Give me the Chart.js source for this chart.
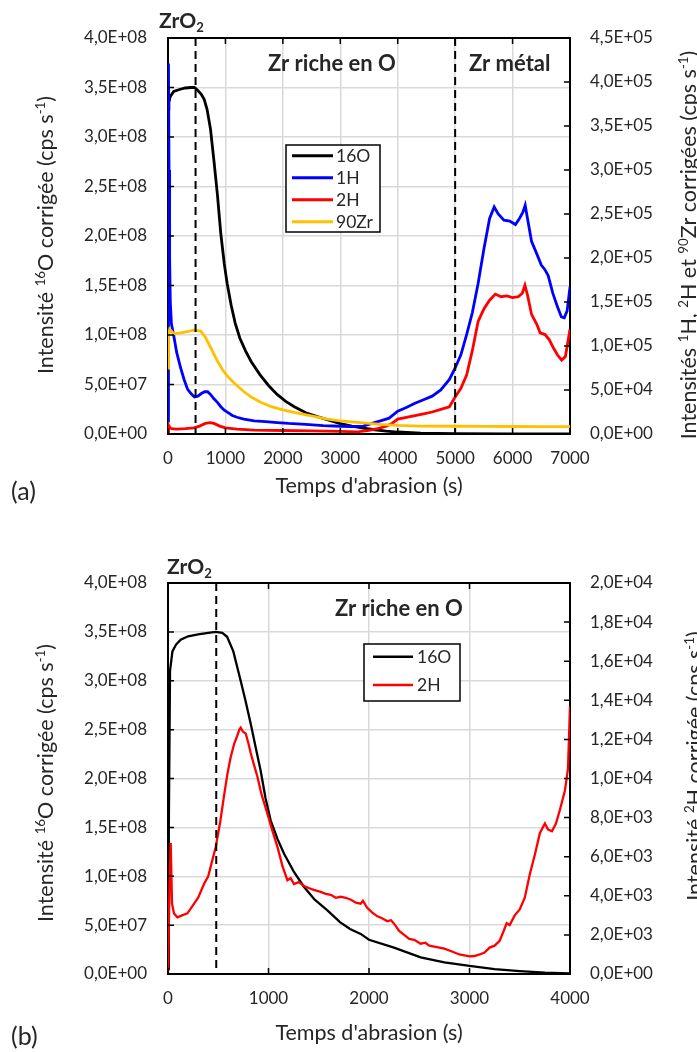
<!DOCTYPE html>
<html>
<head>
<meta charset="utf-8">
<script src="https://cdn.jsdelivr.net/npm/chart.js@4.4.0/dist/chart.umd.min.js"></script>
<style>
  body { margin: 0; background: #fff; }
  canvas { display: block; }
</style>
</head>
<body>
<canvas id="chartA" width="697" height="526"></canvas>
<canvas id="chartB" width="697" height="526"></canvas>
<script>
// ---- (a) data ----
const tO16a = [0, 15, 40, 100, 200, 300, 400, 460, 520, 580, 630, 680, 740, 800, 860, 920, 980, 1030, 1100, 1170, 1250, 1350, 1450, 1600, 1750, 1900, 2050, 2200, 2400, 2600, 2800, 3000, 3200, 3400, 3600, 3800, 4000, 4400, 5000, 6000, 7000];
const o16a = [3.28e8, 3.35e8, 3.41e8, 3.46e8, 3.48e8, 3.495e8, 3.5e8, 3.5e8, 3.47e8, 3.43e8, 3.38e8, 3.28e8, 3.08e8, 2.76e8, 2.42e8, 2.02e8, 1.72e8, 1.52e8, 1.30e8, 1.12e8, 0.97e8, 0.84e8, 0.73e8, 0.60e8, 0.49e8, 0.40e8, 0.33e8, 0.275e8, 0.215e8, 0.175e8, 0.14e8, 0.105e8, 0.08e8, 0.06e8, 0.043e8, 0.03e8, 0.02e8, 0.008e8, 0.004e8, 0.002e8, 0.002e8];

const tH1a = [0, 8, 18, 28, 40, 60, 100, 150, 220, 280, 340, 400, 460, 520, 580, 640, 690, 740, 800, 860, 920, 980, 1040, 1120, 1200, 1320, 1500, 1700, 1900, 2100, 2400, 2700, 3000, 3200, 3400, 3550, 3700, 3850, 4000, 4150, 4300, 4450, 4600, 4750, 4900, 5000, 5100, 5200, 5300, 5400, 5500, 5600, 5680, 5750, 5850, 5950, 6050, 6120, 6180, 6220, 6260, 6330, 6420, 6500, 6560, 6620, 6700, 6780, 6850, 6900, 6950, 7000];
const h1a = [1.5e4, 4.21e5, 3.0e5, 2.0e5, 1.5e5, 1.25e5, 1.12e5, 9.3e4, 7.5e4, 6.2e4, 5.1e4, 4.6e4, 4.2e4, 4.3e4, 4.6e4, 4.8e4, 4.8e4, 4.5e4, 4.0e4, 3.6e4, 3.1e4, 2.7e4, 2.45e4, 2.1e4, 1.9e4, 1.7e4, 1.5e4, 1.4e4, 1.3e4, 1.2e4, 1.1e4, 9.5e3, 8.8e3, 8.5e3, 9e3, 1.2e4, 1.5e4, 1.8e4, 2.6e4, 3.0e4, 3.5e4, 3.9e4, 4.3e4, 5.0e4, 6.2e4, 7.5e4, 9.0e4, 1.13e5, 1.38e5, 1.71e5, 2.1e5, 2.45e5, 2.58e5, 2.5e5, 2.43e5, 2.42e5, 2.38e5, 2.45e5, 2.52e5, 2.6e5, 2.45e5, 2.19e5, 2.05e5, 1.92e5, 1.87e5, 1.8e5, 1.6e5, 1.45e5, 1.33e5, 1.32e5, 1.4e5, 1.67e5];

const tH2a = [0, 10, 25, 60, 150, 300, 450, 550, 650, 730, 800, 900, 1000, 1200, 1500, 2000, 2500, 3000, 3300, 3500, 3650, 3800, 3900, 4000, 4150, 4300, 4450, 4600, 4750, 4900, 5000, 5100, 5200, 5300, 5400, 5500, 5600, 5700, 5800, 5900, 6000, 6100, 6170, 6215, 6260, 6330, 6420, 6480, 6565, 6640, 6710, 6780, 6855, 6920, 7000];
const h2a = [0, 1.0e4, 8e3, 6e3, 5.5e3, 6e3, 7e3, 9e3, 1.2e4, 1.3e4, 1.2e4, 9e3, 7e3, 5.5e3, 4.5e3, 4e3, 3.5e3, 3e3, 2.5e3, 4e3, 6e3, 9e3, 1.2e4, 1.7e4, 1.9e4, 2.1e4, 2.3e4, 2.5e4, 2.8e4, 3.1e4, 4.2e4, 5.2e4, 6.7e4, 9.5e4, 1.28e5, 1.42e5, 1.52e5, 1.59e5, 1.56e5, 1.57e5, 1.55e5, 1.56e5, 1.6e5, 1.69e5, 1.58e5, 1.36e5, 1.25e5, 1.15e5, 1.13e5, 1.07e5, 9.8e4, 9.0e4, 8.4e4, 8.8e4, 1.19e5];

const tZr90a = [0, 10, 30, 100, 220, 350, 453, 570, 650, 744, 850, 950, 1030, 1150, 1324, 1450, 1614, 1800, 2000, 2194, 2500, 2775, 3000, 3355, 3700, 4000, 4400, 5000, 5500, 6000, 6500, 7000];
const zr90a = [7.5e4, 1.13e5, 1.19e5, 1.14e5, 1.15e5, 1.165e5, 1.18e5, 1.17e5, 1.1e5, 9.8e4, 8.4e4, 7.3e4, 6.6e4, 5.8e4, 4.8e4, 4.2e4, 3.6e4, 3.1e4, 2.75e4, 2.46e4, 2.05e4, 1.7e4, 1.5e4, 1.3e4, 1.1e4, 9.8e3, 9e3, 8.8e3, 8.6e3, 8.5e3, 8.4e3, 8.4e3];

// ---- (b) data ----
const tO16b = [0, 8, 20, 44, 80, 126, 200, 300, 400, 475, 540, 588, 650, 723, 770, 823, 870, 922, 970, 1022, 1090, 1155, 1250, 1354, 1460, 1586, 1711, 1811, 1917, 2000, 2249, 2514, 2750, 3000, 3250, 3500, 3750, 4000];
const o16b = [0.05e8, 1.5e8, 3.1e8, 3.30e8, 3.37e8, 3.42e8, 3.455e8, 3.475e8, 3.49e8, 3.5e8, 3.49e8, 3.45e8, 3.3e8, 3.0e8, 2.8e8, 2.56e8, 2.33e8, 2.08e8, 1.8e8, 1.57e8, 1.38e8, 1.23e8, 1.05e8, 0.89e8, 0.76e8, 0.65e8, 0.53e8, 0.46e8, 0.41e8, 0.35e8, 0.27e8, 0.17e8, 0.12e8, 0.082e8, 0.05e8, 0.03e8, 0.015e8, 0.007e8];

const tH2b = [0, 15, 27, 40, 60, 93, 140, 193, 260, 300, 358, 400, 475, 520, 557, 590, 624, 660, 690, 710, 723, 745, 773, 800, 823, 850, 889, 930, 989, 1040, 1089, 1140, 1188, 1220, 1254, 1300, 1354, 1400, 1450, 1519, 1570, 1620, 1670, 1718, 1770, 1820, 1870, 1917, 1940, 1980, 2030, 2083, 2130, 2183, 2220, 2260, 2300, 2350, 2400, 2450, 2514, 2560, 2600, 2650, 2700, 2750, 2800, 2850, 2900, 2950, 3000, 3050, 3100, 3150, 3200, 3250, 3300, 3340, 3370, 3400, 3450, 3500, 3550, 3600, 3650, 3700, 3750, 3780, 3820, 3860, 3900, 3950, 3980, 4000];
const h2b = [0, 4.5e3, 6.7e3, 3.6e3, 3.1e3, 2.9e3, 3.0e3, 3.1e3, 3.6e3, 3.9e3, 4.6e3, 5.0e3, 6.5e3, 7.8e3, 9.1e3, 1.02e4, 1.11e4, 1.18e4, 1.22e4, 1.25e4, 1.26e4, 1.24e4, 1.23e4, 1.18e4, 1.13e4, 1.08e4, 1.01e4, 9.2e3, 8.2e3, 7.3e3, 6.5e3, 5.5e3, 4.8e3, 4.9e3, 4.6e3, 4.7e3, 4.5e3, 4.4e3, 4.3e3, 4.2e3, 4.1e3, 4.05e3, 3.9e3, 3.95e3, 3.9e3, 3.8e3, 3.65e3, 3.6e3, 3.75e3, 3.4e3, 3.15e3, 2.95e3, 2.85e3, 2.7e3, 2.75e3, 2.5e3, 2.2e3, 2.0e3, 1.8e3, 1.75e3, 1.55e3, 1.6e3, 1.45e3, 1.4e3, 1.35e3, 1.3e3, 1.2e3, 1.1e3, 1.0e3, 0.95e3, 0.9e3, 0.92e3, 1.0e3, 1.1e3, 1.35e3, 1.45e3, 1.7e3, 2.2e3, 2.6e3, 2.5e3, 3.0e3, 3.3e3, 3.9e3, 5.1e3, 6.1e3, 7.2e3, 7.7e3, 7.4e3, 7.3e3, 7.7e3, 8.4e3, 9.4e3, 1.05e4, 1.37e4];

const FONT = 'Lato';
const TXT = '#262626';
const TICK_SIZE = 17;
const TITLE_SIZE = 21.5;

function pts(ts, vs) {
  return ts.map((t, i) => ({ x: t, y: vs[i] }));
}

// 4.0E+08 style labels
function sci(v) {
  const parts = Number(v).toExponential(1).split('e');
  const sign = parts[1][0] === '-' ? '-' : '+';
  const ex = String(Math.abs(parseInt(parts[1], 10))).padStart(2, '0');
  return parts[0].replace('.', ',') + 'E' + sign + ex;
}

// text with super/subscripts; segs = [[text, 0|1|-1]], centred on caps
function drawRich(ctx, segs, x, y, size, weight, align, rot) {
  ctx.save();
  ctx.translate(x, y);
  ctx.rotate(rot || 0);
  ctx.fillStyle = TXT;
  ctx.textBaseline = 'alphabetic';
  ctx.textAlign = 'left';
  const fontOf = s => weight + ' ' + (s ? size * 0.62 : size) + 'px ' + FONT;
  let w = 0;
  segs.forEach(([t, s]) => { ctx.font = fontOf(s); w += ctx.measureText(t).width; });
  let cx = align === 'center' ? -w / 2 : 0;
  const base = size * 0.36;
  segs.forEach(([t, s]) => {
    ctx.font = fontOf(s);
    const dy = s === 1 ? -size * 0.36 : (s === -1 ? size * 0.2 : 0);
    ctx.fillText(t, cx, base + dy);
    cx += ctx.measureText(t).width;
  });
  ctx.restore();
}

const decor = {
  id: 'decor',
  afterDraw(chart, args, o) {
    const ctx = chart.ctx;
    const a = chart.chartArea;
    const xs = chart.scales.x, ys = chart.scales.y, y2 = chart.scales.y1;
    ctx.save();
    // top frame
    ctx.strokeStyle = '#000';
    ctx.lineWidth = 2;
    ctx.beginPath();
    ctx.moveTo(a.left, a.top);
    ctx.lineTo(a.right, a.top);
    ctx.stroke();
    // inner tick marks
    ctx.lineWidth = 1.5;
    ctx.beginPath();
    xs.ticks.forEach(t => {
      const px = xs.getPixelForValue(t.value);
      ctx.moveTo(px, a.top); ctx.lineTo(px, a.top + 6);
      ctx.moveTo(px, a.bottom); ctx.lineTo(px, a.bottom - 6);
    });
    ys.ticks.forEach(t => {
      const py = ys.getPixelForValue(t.value);
      ctx.moveTo(a.left, py); ctx.lineTo(a.left + 6, py);
    });
    y2.ticks.forEach(t => {
      const py = y2.getPixelForValue(t.value);
      ctx.moveTo(a.right, py); ctx.lineTo(a.right - 6, py);
    });
    ctx.stroke();
    // dashed boundaries
    ctx.lineWidth = 2;
    ctx.setLineDash([8, 5]);
    ctx.beginPath();
    o.dashed.forEach(v => {
      const px = xs.getPixelForValue(v);
      ctx.moveTo(px, a.top); ctx.lineTo(px, a.bottom);
    });
    ctx.stroke();
    ctx.setLineDash([]);
    // legend box
    const lg = o.legend;
    ctx.fillStyle = '#fff';
    ctx.fillRect(lg.x, lg.y, lg.w, lg.h);
    ctx.strokeStyle = '#000';
    ctx.lineWidth = 1.5;
    ctx.strokeRect(lg.x, lg.y, lg.w, lg.h);
    chart.data.datasets.forEach((ds, i) => {
      const ry = lg.y + lg.first + i * lg.row;
      ctx.strokeStyle = ds.borderColor;
      ctx.lineWidth = lg.lw;
      ctx.beginPath();
      ctx.moveTo(lg.x + lg.l0, ry); ctx.lineTo(lg.x + lg.l1, ry);
      ctx.stroke();
      drawRich(ctx, [[ds.label, 0]], lg.x + lg.tx, ry, lg.size, 'normal', 'left');
    });
    ctx.restore();
    // texts
    o.texts.forEach(t => drawRich(ctx, t.segs, t.x, t.y, t.size, t.weight, t.align, t.rot));
  }
};

function makeChart(id, datasets, cfg) {
  return new Chart(document.getElementById(id), {
    type: 'line',
    data: { datasets },
    plugins: [decor],
    options: {
      responsive: false,
      animation: false,
      events: [],
      layout: { padding: { top: cfg.top, left: 0, right: 0, bottom: 0 } },
      elements: { point: { radius: 0 }, line: { tension: 0 } },
      plugins: {
        legend: { display: false },
        tooltip: { enabled: false },
        decor: cfg.decor
      },
      scales: {
        x: {
          type: 'linear', min: 0, max: cfg.xMax,
          afterFit: s => { s.height = cfg.xH; },
          ticks: { stepSize: 1000, maxRotation: 0, autoSkip: false, padding: 14, color: TXT, font: { family: FONT, size: TICK_SIZE }, callback: v => String(v) },
          grid: { color: '#d9d9d9', lineWidth: 1.5, drawTicks: false },
          border: { display: true, color: '#000', width: 2 }
        },
        y: {
          position: 'left', min: 0, max: 4e8,
          afterFit: s => { s.width = 168; },
          ticks: { stepSize: 5e7, padding: 21, color: TXT, font: { family: FONT, size: TICK_SIZE }, callback: sci },
          grid: { color: '#d9d9d9', lineWidth: 1.5, drawTicks: false },
          border: { display: true, color: '#000', width: 2 }
        },
        y1: {
          position: 'right', min: 0, max: cfg.y2Max,
          afterFit: s => { s.width = 127; },
          ticks: { stepSize: cfg.y2Step, padding: 20, color: TXT, font: { family: FONT, size: TICK_SIZE }, callback: sci },
          grid: { display: false, drawTicks: false },
          border: { display: true, color: '#000', width: 2 }
        }
      }
    }
  });
}

const line = (label, color, d, axis, order, w) => ({
  label, data: d, borderColor: color, backgroundColor: color,
  borderWidth: w, yAxisID: axis, order, fill: false, pointRadius: 0
});

const ROT = -Math.PI / 2;

makeChart('chartA', [
  line('16O', '#000000', pts(tO16a, o16a), 'y', 3, 2.8),
  line('1H', '#0000ff', pts(tH1a, h1a), 'y1', 2, 2.8),
  line('2H', '#ff0000', pts(tH2a, h2a), 'y1', 1, 2.8),
  line('90Zr', '#ffc000', pts(tZr90a, zr90a), 'y1', 0, 2.8)
], {
  top: 38, xMax: 7000, xH: 92, y2Max: 4.5e5, y2Step: 5e4,
  decor: {
    dashed: [480, 5000],
    legend: { x: 286, y: 145, w: 94, h: 87, first: 10.7, row: 22, l0: 6, l1: 47, tx: 50, lw: 3, size: 17.5 },
    texts: [
      { segs: [['ZrO', 0], ['2', -1]], x: 159, y: 20, size: 21, weight: 'bold', align: 'left' },
      { segs: [['Zr riche en O', 0]], x: 268, y: 63.5, size: 22, weight: 'bold', align: 'left' },
      { segs: [['Zr métal', 0]], x: 469, y: 63.5, size: 22, weight: 'bold', align: 'left' },
      { segs: [['(a)', 0]], x: 11, y: 491, size: 25, weight: 'normal', align: 'left' },
      { segs: [["Temps d'abrasion (s)", 0]], x: 369, y: 485, size: TITLE_SIZE, weight: 'normal', align: 'center' },
      { segs: [['Intensité ', 0], ['16', 1], ['O corrigée (cps s', 0], ['-1', 1], [')', 0]], x: 45, y: 235, size: TITLE_SIZE, weight: 'normal', align: 'center', rot: ROT },
      { segs: [['Intensités ', 0], ['1', 1], ['H, ', 0], ['2', 1], ['H et ', 0], ['90', 1], ['Zr corrigées (cps s', 0], ['-1', 1], [')', 0]], x: 688, y: 245, size: TITLE_SIZE, weight: 'normal', align: 'center', rot: ROT }
    ]
  }
});

makeChart('chartB', [
  line('16O', '#000000', pts(tO16b, o16b), 'y', 1, 2.3),
  line('2H', '#ff0000', pts(tH2b, h2b), 'y1', 0, 2.3)
], {
  top: 57, xMax: 4000, xH: 78, y2Max: 2e4, y2Step: 2e3,
  decor: {
    dashed: [480],
    legend: { x: 364, y: 118, w: 96, h: 57, first: 12.7, row: 28.3, l0: 9, l1: 49, tx: 53, lw: 2.5, size: 17.5 },
    texts: [
      { segs: [['ZrO', 0], ['2', -1]], x: 167, y: 40, size: 21, weight: 'bold', align: 'left' },
      { segs: [['Zr riche en O', 0]], x: 335, y: 82, size: 22, weight: 'bold', align: 'left' },
      { segs: [['(b)', 0]], x: 11, y: 510, size: 25, weight: 'normal', align: 'left' },
      { segs: [["Temps d'abrasion (s)", 0]], x: 369, y: 506, size: TITLE_SIZE, weight: 'normal', align: 'center' },
      { segs: [['Intensité ', 0], ['16', 1], ['O corrigée (cps s', 0], ['-1', 1], [')', 0]], x: 45, y: 257, size: TITLE_SIZE, weight: 'normal', align: 'center', rot: ROT },
      { segs: [['Intensité ', 0], ['2', 1], ['H corrigée (cps s', 0], ['-1', 1], [')', 0]], x: 694, y: 240, size: TITLE_SIZE, weight: 'normal', align: 'center', rot: ROT }
    ]
  }
});
</script>
</body>
</html>
